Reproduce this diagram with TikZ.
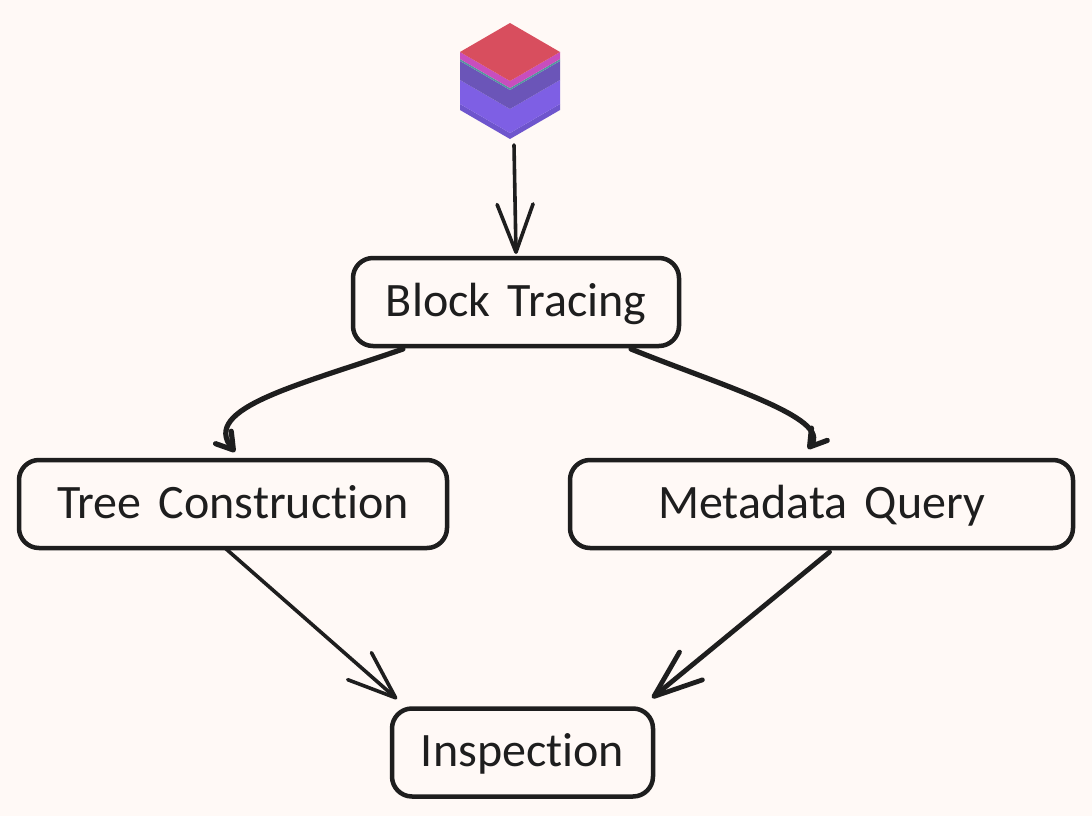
\documentclass[tikz,border=0pt]{standalone}
\usepackage{fontspec}
\setmainfont[WordSpace=1.6, Ligatures=NoCommon]{Carlito}
\usetikzlibrary{arrows.meta, calc}
\definecolor{paper}{RGB}{255,249,246}
\definecolor{ink}{RGB}{30,30,30}
\definecolor{lidred}{RGB}{216,78,94}
\definecolor{layerpink}{RGB}{200,78,190}
\definecolor{layerteal}{RGB}{84,150,160}
\definecolor{layerdark}{RGB}{107,85,184}
\definecolor{layerlight}{RGB}{126,95,228}
\definecolor{layerrim}{RGB}{110,85,205}
\tikzset{
    stage/.style={draw=ink, line width=4.5pt, rounded corners=20pt, fill=paper, text=ink,
        inner sep=0pt, outer sep=0pt, minimum height=88pt, text height=36pt, text depth=8pt,
        font=\fontsize{48}{52}\selectfont},
    bigarrow/.style={draw=ink, line width=3.6pt, line cap=round, line join=round,
        -{Straight Barb[length=48pt, width=36pt, round]}},
    smallarrow/.style={draw=ink, line width=5.2pt, line cap=round, line join=round,
        -{Straight Barb[length=16pt, width=20pt, round]}}
}
\begin{document}
\begin{tikzpicture}[x=1pt, y=-1pt]
    \fill[paper] (0,0) rectangle (1092,816);
    \useasboundingbox (0,0) rectangle (1092,816);

    % cube, slabs from the bottom up
    \fill[layerrim] (460,104) -- (510,133) -- (560,104) -- (560,110) -- (510,139) -- (460,110) -- cycle;
    \fill[layerlight] (460,80) -- (510,109) -- (560,80) -- (560,104) -- (510,133) -- (460,104) -- cycle;
    \fill[layerdark] (460,61) -- (510,90) -- (560,61) -- (560,80) -- (510,109) -- (460,80) -- cycle;
    \fill[layerteal] (460,59) -- (510,88) -- (560,59) -- (560,61) -- (510,90) -- (460,61) -- cycle;
    \fill[layerpink] (460,52) -- (510,81) -- (560,52) -- (560,59) -- (510,88) -- (460,59) -- cycle;
    \fill[lidred] (510,23) -- (560,52) -- (510,81) -- (460,52) -- cycle;
    \coordinate (cube) at (514,145);

    \node[stage, minimum width=326pt] (block) at (516,302) {Block Tracing};
    \node[stage, minimum width=428pt] (tree) at (233,504) {Tree Construction};
    \node[stage, minimum width=503pt] (meta) at (821.5,504) {Metadata Query};
    \node[stage, minimum width=261pt] (insp) at (522.5,752.5) {Inspection};

    \draw[bigarrow] (cube) -- ([yshift=4pt]block.north);
    \draw[smallarrow] ([xshift=-113pt,yshift=-3pt]block.south) .. controls (300,385) and (200,408) .. ([xshift=2pt,yshift=8pt]tree.north);
    \draw[smallarrow] ([xshift=115pt,yshift=-3pt]block.south) .. controls (720,385) and (832,418) .. ([xshift=-13.5pt,yshift=11pt]meta.north);
    \draw[bigarrow] ([xshift=-8pt]tree.south) -- ([xshift=-125.5pt,yshift=9.5pt]insp.north);
    \draw[bigarrow, line width=4.8pt] ([xshift=8pt,yshift=-4pt]meta.south) -- ([xshift=129.5pt,yshift=10.5pt]insp.north);
\end{tikzpicture}
\end{document}
